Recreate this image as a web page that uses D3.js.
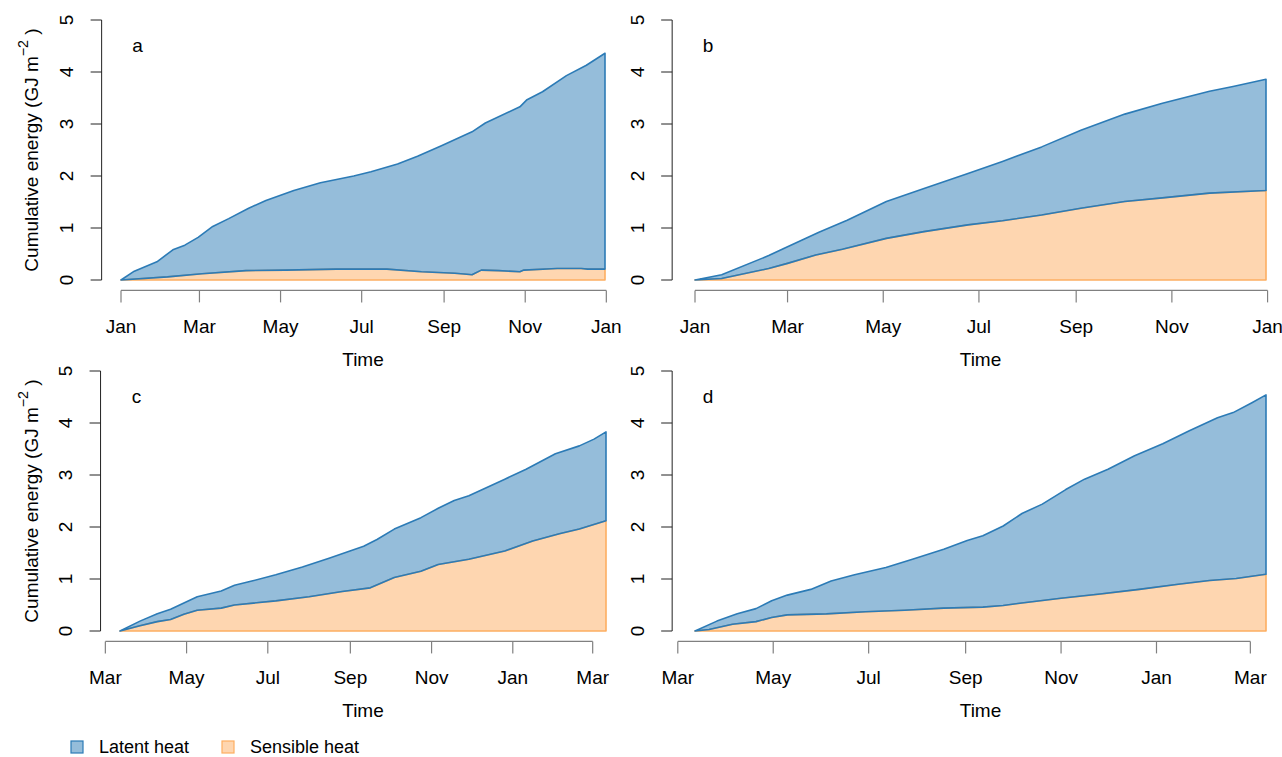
<!DOCTYPE html>
<html>
<head>
<meta charset="utf-8">
<script src="https://cdn.jsdelivr.net/npm/d3@7"></script>
<style>
  html, body { margin: 0; padding: 0; background: #fff; }
  svg { display: block; font-family: "Liberation Sans", Arial, sans-serif; }
</style>
</head>
<body>
<svg id="chart" width="1282" height="757"></svg>
<script>
// Cumulative turbulent energy (GJ m^-2), days since the start of each record.
// Panel a: calendar year starting 1 Jan
const daysTotalA = [0, 10, 27, 39, 48, 58, 69, 81, 96, 109, 130, 150, 175, 188, 208, 223, 241, 264, 274, 300, 305, 317, 335, 350, 364];
const totalA     = [0, 0.17, 0.35, 0.58, 0.67, 0.82, 1.03, 1.18, 1.38, 1.53, 1.72, 1.87, 2.00, 2.08, 2.23, 2.38, 2.58, 2.85, 3.02, 3.33, 3.46, 3.62, 3.93, 4.13, 4.36];
const daysSensA  = [0, 35, 61, 94, 124, 162, 200, 226, 251, 260, 264, 271, 284, 300, 303, 328, 346, 351, 364];
const sensibleA  = [0, 0.06, 0.12, 0.18, 0.19, 0.21, 0.21, 0.16, 0.13, 0.11, 0.10, 0.19, 0.18, 0.16, 0.19, 0.22, 0.22, 0.21, 0.21];

// Panel b: calendar year starting 1 Jan
const daysTotalB = [0, 17, 47, 59, 79, 97, 122, 146, 174, 196, 221, 246, 274, 298, 328, 343, 364];
const totalB     = [0, 0.10, 0.47, 0.64, 0.92, 1.15, 1.51, 1.76, 2.05, 2.28, 2.56, 2.88, 3.19, 3.40, 3.63, 3.72, 3.86];
const daysSensB  = [0, 17, 47, 59, 77, 94, 122, 146, 174, 196, 221, 246, 274, 298, 328, 364];
const sensibleB  = [0, 0.03, 0.22, 0.32, 0.48, 0.59, 0.80, 0.93, 1.06, 1.14, 1.25, 1.38, 1.51, 1.58, 1.67, 1.72];

// Panel c: year starting 12 Mar
const daysTotalC = [0, 15, 28, 38, 48, 58, 76, 86, 99, 117, 137, 157, 183, 193, 206, 226, 239, 251, 262, 289, 305, 327, 345, 356, 365];
const totalC     = [0, 0.19, 0.33, 0.42, 0.54, 0.66, 0.77, 0.88, 0.96, 1.08, 1.23, 1.40, 1.63, 1.76, 1.96, 2.18, 2.36, 2.51, 2.60, 2.92, 3.11, 3.41, 3.56, 3.69, 3.83];
const daysSensC  = [0, 15, 28, 38, 48, 58, 76, 86, 117, 142, 167, 188, 206, 226, 239, 262, 289, 310, 330, 345, 365];
const sensibleC  = [0, 0.10, 0.18, 0.22, 0.32, 0.40, 0.44, 0.50, 0.58, 0.66, 0.76, 0.83, 1.03, 1.15, 1.28, 1.38, 1.54, 1.73, 1.87, 1.96, 2.12];

// Panel d: year starting 12 Mar
const daysTotalD = [0, 14, 27, 39, 49, 59, 74, 87, 102, 122, 139, 159, 174, 184, 197, 209, 222, 237, 249, 264, 281, 299, 316, 334, 344, 356, 365];
const totalD     = [0, 0.19, 0.33, 0.43, 0.58, 0.69, 0.80, 0.96, 1.08, 1.22, 1.38, 1.57, 1.74, 1.83, 2.02, 2.26, 2.44, 2.72, 2.92, 3.11, 3.37, 3.60, 3.85, 4.10, 4.20, 4.39, 4.54];
const daysSensD  = [0, 9, 24, 39, 49, 59, 84, 109, 134, 159, 184, 197, 209, 234, 259, 284, 309, 329, 346, 365];
const sensibleD  = [0, 0.03, 0.13, 0.18, 0.26, 0.31, 0.33, 0.37, 0.40, 0.44, 0.46, 0.49, 0.54, 0.63, 0.71, 0.80, 0.90, 0.97, 1.01, 1.09];

const panelLetters = ["a", "b", "c", "d"];
const startDates = ["2015-01-01", "2015-01-01", "2015-03-12", "2015-03-12"];
const yTicks = [0, 1, 2, 3, 4, 5];
const legendLabels = ["Latent heat", "Sensible heat"];
const colLatent = "#2c7bb6";
const colSensible = "#fdae61";

const panelData = [
  { dt: daysTotalA, t: totalA, ds: daysSensA, s: sensibleA },
  { dt: daysTotalB, t: totalB, ds: daysSensB, s: sensibleB },
  { dt: daysTotalC, t: totalC, ds: daysSensC, s: sensibleC },
  { dt: daysTotalD, t: totalD, ds: daysSensD, s: sensibleD }
];

// Pixel extent of each panel's data (x) and of the 0..5 value range (y)
const frames = [
  { x0: 121, x1: 605, yb: 280, yt: 20 },
  { x0: 695, x1: 1266, yb: 280, yt: 20 },
  { x0: 120, x1: 606, yb: 631, yt: 371 },
  { x0: 695, x1: 1266, yb: 631, yt: 371 }
];

const svg = d3.select("#chart");
const fs = 19;
const fmt = d3.timeFormat("%b");
const parse = d3.timeParse("%Y-%m-%d");

panelLetters.forEach((letter, i) => {
  const f = frames[i];
  const dat = panelData[i];
  const start = parse(startDates[i]);
  const lastDay = Math.max(dat.dt[dat.dt.length - 1], dat.ds[dat.ds.length - 1]);
  const end = d3.timeDay.offset(start, lastDay);

  const x = d3.scaleTime().domain([start, end]).range([f.x0, f.x1]);
  const y = d3.scaleLinear().domain([0, 5]).range([f.yb, f.yt]);

  // plotting region padded by 4% as in base graphics
  const padX = 0.04 * (f.x1 - f.x0);
  const padY = 0.04 * (f.yb - f.yt);
  const left = f.x0 - padX, right = f.x1 + padX;
  const top = f.yt - padY, bottom = f.yb + padY;

  const g = svg.append("g");

  const top_ = dat.dt.map((d, k) => [x(d3.timeDay.offset(start, d)), y(dat.t[k])]);
  const sens = dat.ds.map((d, k) => [x(d3.timeDay.offset(start, d)), y(dat.s[k])]);
  const zeroLine = [[x(start), y(0)], [x(end), y(0)]];

  const line = d3.line().curve(d3.curveLinear);

  // sensible heat: from zero up to the sensible curve
  const polyS = sens.concat(zeroLine.slice().reverse());
  g.append("path")
    .attr("d", line(polyS) + "Z")
    .attr("fill", colSensible).attr("fill-opacity", 0.5)
    .attr("stroke", colSensible).attr("stroke-width", 1.6)
    .attr("stroke-linejoin", "round");

  // latent heat: between the sensible curve and the total
  const polyL = top_.concat(sens.slice().reverse());
  g.append("path")
    .attr("d", line(polyL) + "Z")
    .attr("fill", colLatent).attr("fill-opacity", 0.5)
    .attr("stroke", colLatent).attr("stroke-width", 1.6)
    .attr("stroke-linejoin", "round");

  // y axis
  const yAx = g.append("g").attr("transform", `translate(${left},0)`);
  yAx.append("line")
    .attr("x1", 0).attr("x2", 0).attr("y1", y(0)).attr("y2", y(5))
    .attr("stroke", "#222").attr("stroke-width", 1);
  yTicks.forEach(v => {
    yAx.append("line")
      .attr("x1", -11).attr("x2", 0).attr("y1", y(v)).attr("y2", y(v))
      .attr("stroke", "#222").attr("stroke-width", 1);
    yAx.append("text")
      .attr("transform", `translate(-35,${y(v)}) rotate(-90)`)
      .attr("text-anchor", "middle").attr("dominant-baseline", "central")
      .attr("font-size", fs).attr("fill", "#000")
      .text(v);
  });

  // x axis: ticks every second month inside the padded range
  const usr0 = x.invert(left), usr1 = x.invert(right);
  const ticks = d3.timeMonth.every(2).range(usr0, usr1);
  const axisY = bottom;
  const xAx = g.append("g").attr("transform", `translate(0,${axisY})`);
  xAx.append("line")
    .attr("x1", x(ticks[0])).attr("x2", x(ticks[ticks.length - 1]))
    .attr("y1", 0).attr("y2", 0)
    .attr("stroke", "#808080").attr("stroke-width", 1.2);
  ticks.forEach(t => {
    xAx.append("line")
      .attr("x1", x(t)).attr("x2", x(t)).attr("y1", 0).attr("y2", 12)
      .attr("stroke", "#808080").attr("stroke-width", 1.2);
    xAx.append("text")
      .attr("x", x(t)).attr("y", 36)
      .attr("text-anchor", "middle").attr("dominant-baseline", "central")
      .attr("font-size", fs).attr("fill", "#000")
      .text(fmt(t));
  });

  // axis title
  g.append("text")
    .attr("x", (left + right) / 2).attr("y", axisY + 69)
    .attr("text-anchor", "middle").attr("dominant-baseline", "central")
    .attr("font-size", fs).attr("fill", "#000")
    .text("Time");

  if (i % 2 === 0) {
    const yl = g.append("text")
      .attr("transform", `translate(31,${(top + bottom) / 2}) rotate(-90)`)
      .attr("text-anchor", "middle").attr("dominant-baseline", "central")
      .attr("font-size", fs).attr("fill", "#000");
    yl.append("tspan").text("Cumulative energy (GJ m");
    yl.append("tspan").attr("font-size", fs * 0.75).attr("dy", -8).text("\u22122");
    yl.append("tspan").attr("dy", 8).text(" )");
  }

  // panel letter
  g.append("text")
    .attr("x", left + 36).attr("y", top + 36)
    .attr("text-anchor", "middle").attr("dominant-baseline", "central")
    .attr("font-size", fs).attr("fill", "#000")
    .text(letter);
});

// legend
const legend = svg.append("g").attr("transform", "translate(0,746)");
const legendCols = [colLatent, colSensible];
const legendX = [71, 222];
legendLabels.forEach((lab, k) => {
  legend.append("rect")
    .attr("x", legendX[k]).attr("y", -5).attr("width", 12).attr("height", 12)
    .attr("fill", legendCols[k]).attr("fill-opacity", 0.5)
    .attr("stroke", legendCols[k]).attr("stroke-width", 1.2);
  legend.append("text")
    .attr("x", legendX[k] + 28).attr("y", 1)
    .attr("dominant-baseline", "central")
    .attr("font-size", 18).attr("fill", "#000")
    .text(lab);
});
</script>
</body>
</html>
